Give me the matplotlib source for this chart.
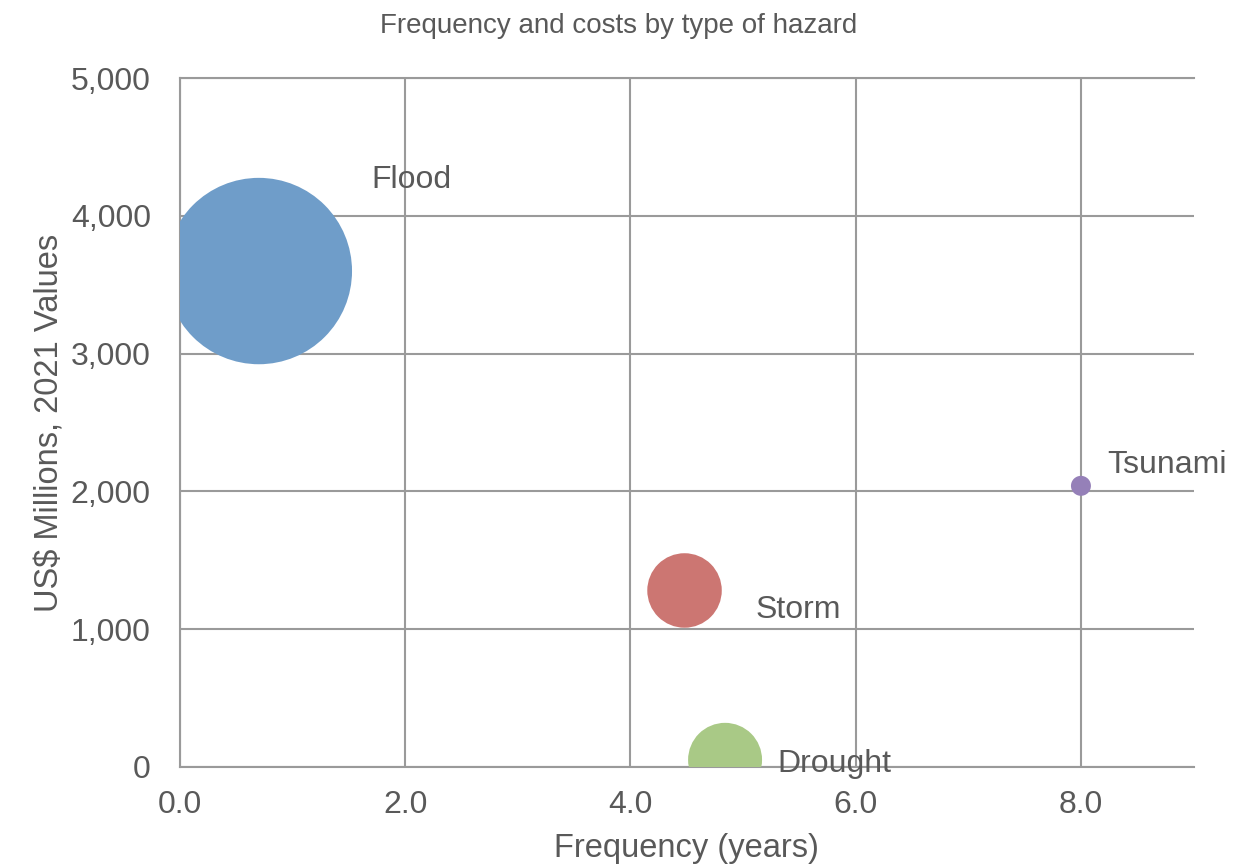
import matplotlib.pyplot as plt

plt.rcParams['font.family'] = ['Liberation Sans', 'DejaVu Sans']

# hazard data
hazards = ['Flood', 'Tsunami', 'Storm', 'Drought']
frequency = [0.70, 8.0, 4.48, 4.84]
costs = [3600, 2040, 1280, 50]
bubble_size = [87.0, 1.0, 13.9, 13.7]
colors = ['#6f9dc9', '#9580b8', '#cc7672', '#a9c986']
label_offsets = [(81, 59.5), (18.7, 9.1), (51, -20), (37.4, -8.6)]

xticks = [0, 2, 4, 6, 8]
yticks = [0, 1000, 2000, 3000, 4000, 5000]

text_col = '#595959'
grid_col = '#9a9a9a'

fig = plt.figure(figsize=(12.38, 8.68), dpi=100)
ax = fig.add_axes([0.1454, 0.1167, 0.8187, 0.7931])

ax.scatter(frequency, costs, s=[b * 207 for b in bubble_size], c=colors,
           linewidths=0, zorder=3, clip_on=True)

for name, x, y, off in zip(hazards, frequency, costs, label_offsets):
    ax.annotate(name, (x, y), xytext=off, textcoords='offset points',
                ha='left', va='baseline', fontsize=23, color=text_col, zorder=4)

ax.set_xlim(0, 9)
ax.set_ylim(0, 5000)
ax.set_xticks(xticks)
ax.set_yticks(yticks)
ax.set_xticklabels([f'{t:.1f}' for t in xticks])
ax.set_yticklabels([f'{t:,}' for t in yticks])
ax.tick_params(length=0, labelsize=23, labelcolor=text_col)
ax.tick_params(axis='x', pad=17)
ax.tick_params(axis='y', pad=21)

ax.grid(True, color=grid_col, linewidth=1.5, zorder=1)
ax.set_axisbelow(True)
for side in ['left', 'bottom', 'top']:
    ax.spines[side].set_color(grid_col)
    ax.spines[side].set_linewidth(1.5)
ax.spines['right'].set_visible(False)

ax.set_xlabel('Frequency (years)', fontsize=23.5, color=text_col, labelpad=9)
ax.set_ylabel('US$ Millions, 2021 Values', fontsize=23.5, color=text_col, labelpad=4)
fig.suptitle('Frequency and costs by type of hazard', x=0.5, y=0.985,
             fontsize=20, color=text_col)

fig.savefig('out.png', dpi=100)
